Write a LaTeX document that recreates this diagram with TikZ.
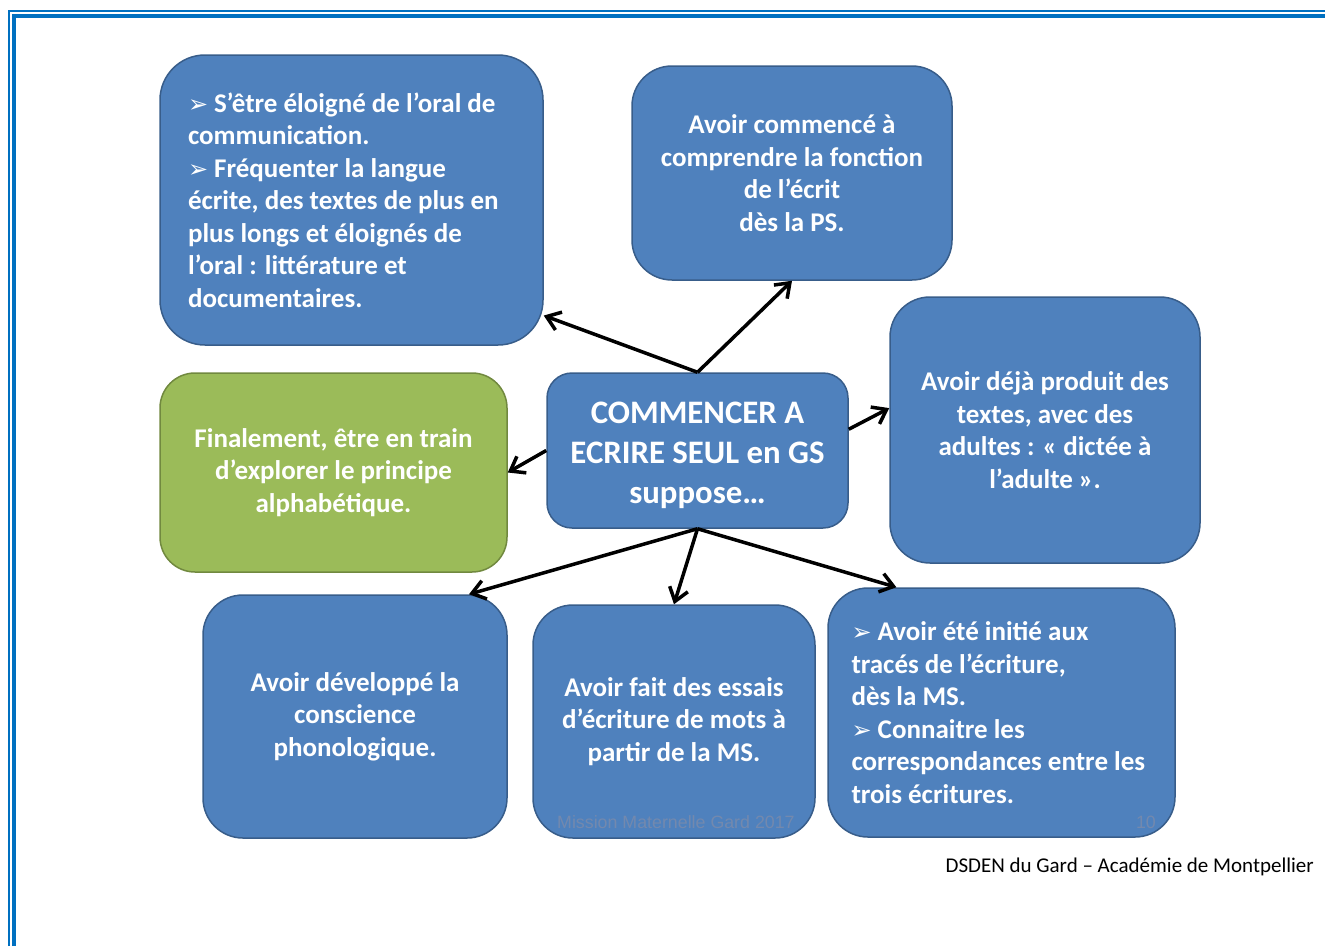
\documentclass[tikz,border=0pt]{standalone}
\usepackage{fontspec}
\setmainfont{Carlito}
\newfontfamily\dingfont{DejaVu Sans}
\newfontfamily\arialfont{Liberation Sans}
\usetikzlibrary{arrows.meta}
\definecolor{bleu}{HTML}{4F81BD}
\definecolor{bleufonce}{HTML}{385D8A}
\definecolor{vert}{HTML}{9BBB59}
\definecolor{vertfonce}{HTML}{71893F}
\definecolor{cadre}{HTML}{0070C0}
\definecolor{filigrane}{HTML}{7389AE}
\newcommand{\puce}{{\dingfont\fontsize{24}{26}\selectfont ➢}~}
\tikzset{
    ->,
>={Straight Barb[length=13pt,width=19pt]},
bloc/.style={rectangle, rounded corners=40pt, draw=bleufonce, fill=bleu, line width=1.5pt,
    text=white, inner sep=0pt, align=center, font=\bfseries\fontsize{27}{32.5}\selectfont},
vert/.style={bloc, draw=vertfonce, fill=vert},
lien/.style={draw, line width=3.5pt},
}
\begin{document}
\begin{tikzpicture}[x=1pt, y=-1pt]
        \useasboundingbox (0,0) rectangle (1325,946);
        \draw[-, cadre, line width=2.5pt] (9,946) -- (9,11) -- (1325,11);
        \draw[-, cadre, line width=4pt] (14,946) -- (14,16) -- (1325,16);
        \node[bloc, minimum width=301pt, minimum height=155pt, rounded corners=25pt, text height=112pt,
            font=\bfseries\fontsize{32.8}{40}\selectfont] (0) at (697.5,450.5) {COMMENCER A\\ECRIRE SEUL en GS\\suppose…};
        \node[bloc, minimum width=383pt, minimum height=290pt, rounded corners=45pt, text width=327pt, align=flush left] (1) at (351.5,200)
            {\puce S’être éloigné de l’oral de\\communication.\\\puce Fréquenter la langue\\écrite, des textes de plus en\\plus longs et éloignés de\\l’oral : littérature et\\documentaires.};
        \node[bloc, minimum width=320pt, minimum height=214pt] (2) at (792,173) {Avoir commencé à\\comprendre la fonction\\de l’écrit\\dès la PS.};
        \node[bloc, minimum width=310pt, minimum height=266pt] (3) at (1045,430) {Avoir déjà produit des\\textes, avec des\\adultes : « dictée à\\l’adulte ».};
        \node[vert, minimum width=347pt, minimum height=199pt, rounded corners=35pt] (4) at (333.5,472.5) {Finalement, être en train\\d’explorer le principe\\alphabétique.};
        \node[bloc, minimum width=304pt, minimum height=243pt] (5) at (355,716.5) {Avoir développé la\\conscience\\phonologique.};
        \node[bloc, minimum width=282pt, minimum height=233pt] (6) at (674,721.5) {Avoir fait des essais\\d’écriture de mots à\\partir de la MS.};
        \node[bloc, minimum width=347pt, minimum height=249pt, text width=300pt, align=flush left] (7) at (1001.5,712.5)
            {\puce Avoir été initié aux\\tracés de l’écriture,\\dès la MS.\\\puce Connaitre les\\correspondances entre les\\trois écritures.};
        \node[font=\arialfont\fontsize{17.8}{20}\selectfont, text=filigrane, anchor=west, inner sep=0pt] (mission) at (557,822) {Mission Maternelle Gard 2017};
        \node[font=\arialfont\fontsize{17.8}{20}\selectfont, text=filigrane, anchor=east, inner sep=0pt] (page) at (1156,822) {10};
        \node[font=\fontsize{21}{25}\selectfont, anchor=east, inner sep=0pt] (pied) at (1314,867) {DSDEN du Gard – Académie de Montpellier};
        \path
        (0.north) edge[lien] (1.-31)
        (0.north) edge[lien] (2.south)
        (0.8) edge[lien] (3.172)
        (0.west) edge[lien] (4.east)
        (0.south) edge[lien] (5.47)
        (0.south) edge[lien] (6.north)
        (0.south) edge[lien] (7.130)
        ;
    \end{tikzpicture}
\end{document}
